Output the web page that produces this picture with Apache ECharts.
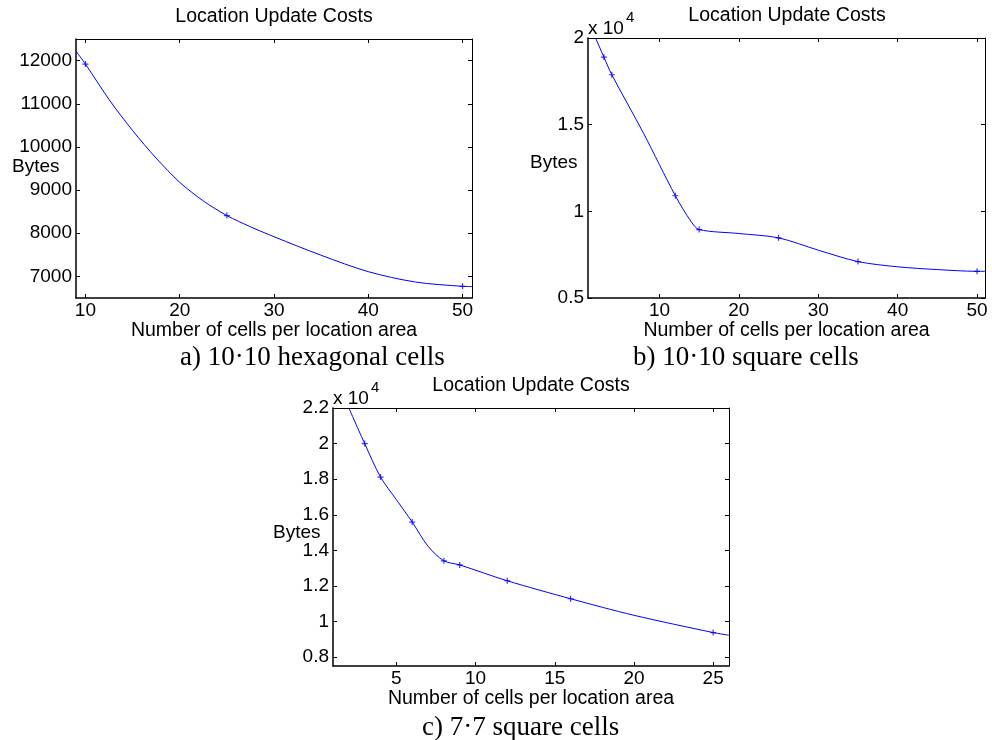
<!DOCTYPE html>
<html>
<head>
<meta charset="utf-8">
<title>Location Update Costs</title>
<script src="https://cdn.jsdelivr.net/npm/echarts@6.0.0/dist/echarts.min.js"></script>
<style>
  html, body { margin: 0; padding: 0; background: #fff; }
  #chart { width: 992px; height: 740px; }
</style>
</head>
<body>
<div id="chart"></div>
<script>
// a) 10x10 hexagonal cells -- curve, markers at the computed points
const hexCurveX = [9, 10, 12.5, 15, 17.5, 20, 22.5, 25, 27.5, 30, 35, 40, 45, 50, 51];
const hexCurveY = [12216, 11920, 11100, 10380, 9740, 9180, 8750, 8410, 8150, 7920, 7490, 7110, 6870, 6770, 6765];
const hexPointX = [10, 25, 50];
const hexPointY = [11920, 8410, 6770];
const hexXTicks = [10, 20, 30, 40, 50];
const hexYTicks = [7000, 8000, 9000, 10000, 11000, 12000];

// b) 10x10 square cells
const sqCurveX = [2, 3, 4, 8, 12, 14, 15, 20, 25, 30, 35, 40, 45, 50, 51];
const sqCurveY = [19950, 18900, 17880, 14500, 10900, 9400, 8950, 8720, 8470, 7760, 7100, 6800, 6640, 6540, 6540];
const sqPointX = [3, 4, 12, 15, 25, 35, 50];
const sqPointY = [18900, 17880, 10900, 8950, 8470, 7100, 6540];
const sqXTicks = [10, 20, 30, 40, 50];
const sqYTicks = [5000, 10000, 15000, 20000];

// c) 7x7 square cells
const sq7CurveX = [2, 3, 4, 5, 6, 7, 8, 9, 12, 16, 20, 25, 26];
const sq7CurveY = [22000, 20000, 18120, 16850, 15590, 14230, 13410, 13180, 12290, 11280, 10350, 9380, 9230];
const sq7PointX = [3, 4, 6, 8, 9, 12, 16, 25];
const sq7PointY = [20000, 18120, 15590, 13410, 13180, 12290, 11280, 9380];
const sq7XTicks = [5, 10, 15, 20, 25];
const sq7YTicks = [8000, 10000, 12000, 14000, 16000, 18000, 20000, 22000];

const titleText = 'Location Update Costs';
const xName = 'Number of cells per location area';
const yName = 'Bytes';

const sans = '"Liberation Sans", Arial, sans-serif';
const serif = '"Liberation Serif", "Times New Roman", serif';
const blue = '#0000ff';
const plusMark = 'path://M2,0H3V2H5V3H3V5H2V3H0V2H2Z';

const zip = (xs, ys) => xs.map((x, i) => [x, ys[i]]);
const plain = v => String(v);
const sci = v => String(+(v / 10000).toFixed(1));

// matlab style box: labelled bottom/left axes, bare ticks on top/right
function xAxes(grid, min, max, ticks) {
  const base = {
    type: 'value', gridIndex: grid, min: min, max: max,
    splitLine: { show: false },
    axisTick: { show: true, inside: true, length: 4, customValues: ticks, lineStyle: { color: '#000' } }
  };
  return [
    Object.assign({}, base, {
      position: 'bottom',
      axisLine: { onZero: false, lineStyle: { color: '#000', width: 1.5 } },
      axisLabel: { customValues: ticks, color: '#000', fontSize: 19, fontFamily: sans, margin: 3, formatter: plain },
      name: xName, nameLocation: 'middle', nameGap: 20,
      nameTextStyle: { color: '#000', fontSize: 19.5, fontFamily: sans, verticalAlign: 'top' }
    }),
    Object.assign({}, base, {
      position: 'top',
      axisLine: { onZero: false, lineStyle: { color: '#000', width: 1 } },
      axisLabel: { show: false }
    })
  ];
}

function yAxes(grid, min, max, ticks, fmt) {
  const base = {
    type: 'value', gridIndex: grid, min: min, max: max,
    splitLine: { show: false },
    axisTick: { show: true, inside: true, length: 4, customValues: ticks, lineStyle: { color: '#000' } }
  };
  return [
    Object.assign({}, base, {
      position: 'left',
      axisLine: { show: true, onZero: false, lineStyle: { color: '#000', width: 1.5 } },
      axisLabel: { customValues: ticks, color: '#000', fontSize: 19, fontFamily: sans, margin: 4, formatter: fmt }
    }),
    Object.assign({}, base, {
      position: 'right',
      axisLine: { show: true, onZero: false, lineStyle: { color: '#000', width: 1 } },
      axisLabel: { show: false }
    })
  ];
}

function curves(grid, cx, cy, px, py) {
  return [
    {
      type: 'line', xAxisIndex: grid * 2, yAxisIndex: grid * 2,
      data: zip(cx, cy), smooth: 0.3, showSymbol: false, clip: true,
      lineStyle: { color: blue, width: 1 }
    },
    {
      type: 'scatter', xAxisIndex: grid * 2, yAxisIndex: grid * 2,
      data: zip(px, py), symbol: plusMark, symbolSize: 6,
      itemStyle: { color: blue }
    }
  ];
}

function label(x, y, text, font, align) {
  return {
    type: 'text', x: x, y: y,
    style: {
      text: text, font: font, fill: '#000',
      textAlign: align || 'center', align: align || 'center',
      textVerticalAlign: 'middle', verticalAlign: 'middle'
    }
  };
}

const chart = echarts.init(document.getElementById('chart'));
chart.setOption({
  animation: false,
  backgroundColor: '#fff',
  grid: [
    { left: 76, top: 39, width: 396, height: 259 },
    { left: 588, top: 38, width: 397, height: 260 },
    { left: 333, top: 408, width: 396, height: 258 }
  ],
  xAxis: [].concat(
    xAxes(0, 9, 51, hexXTicks),
    xAxes(1, 1, 51, sqXTicks),
    xAxes(2, 1, 26, sq7XTicks)
  ),
  yAxis: [].concat(
    yAxes(0, 6500, 12500, hexYTicks, plain),
    yAxes(1, 5000, 20000, sqYTicks, sci),
    yAxes(2, 7500, 22000, sq7YTicks, sci)
  ),
  series: [].concat(
    curves(0, hexCurveX, hexCurveY, hexPointX, hexPointY),
    curves(1, sqCurveX, sqCurveY, sqPointX, sqPointY),
    curves(2, sq7CurveX, sq7CurveY, sq7PointX, sq7PointY)
  ),
  graphic: [
    label(274, 17, titleText, '19.5px ' + sans),
    label(787, 16, titleText, '19.5px ' + sans),
    label(531, 386, titleText, '19.5px ' + sans),
    label(12, 167, yName, '19px ' + sans, 'left'),
    label(530, 163, yName, '19px ' + sans, 'left'),
    label(273, 533, yName, '19px ' + sans, 'left'),
    label(588, 29, 'x 10', '19px ' + sans, 'left'),
    label(626, 18, '4', '15px ' + sans, 'left'),
    label(333, 399, 'x 10', '19px ' + sans, 'left'),
    label(371, 388, '4', '15px ' + sans, 'left'),
    label(180, 358, 'a) 10\u00b710 hexagonal cells', '27px ' + serif, 'left'),
    label(633, 358, 'b) 10\u00b710 square cells', '27px ' + serif, 'left'),
    label(422, 728, 'c) 7\u00b77 square cells', '27px ' + serif, 'left')
  ]
});
</script>
</body>
</html>
